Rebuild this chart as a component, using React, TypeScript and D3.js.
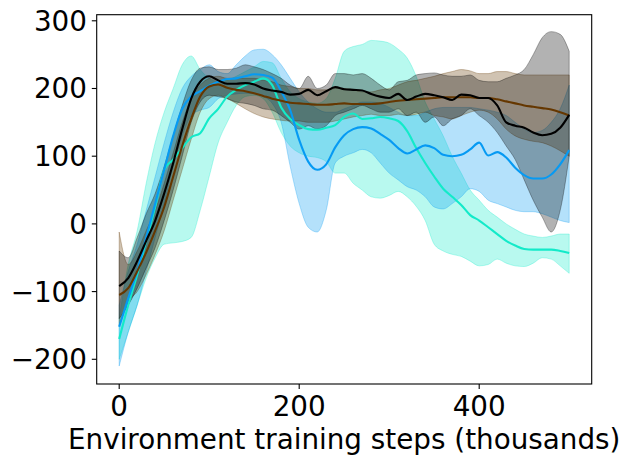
import { useMemo } from 'react';
import * as d3 from 'd3';

// training steps (thousands)
const steps = [
  0, 10, 20, 30, 40, 50, 60, 70, 80, 90, 100, 110, 120, 130, 140, 150, 160, 170, 180, 190, 200,
  210, 220, 230, 240, 250, 260, 270, 280, 290, 300, 310, 320, 330, 340, 350, 360, 370, 380, 390,
  400, 410, 420, 430, 440, 450, 460, 470, 480, 490, 500,
];

const turqMean = [
  -170, -120, -75, -25, 25, 80, 95, 112, 128, 134, 156, 170, 188, 198, 205, 210, 215, 205, 172,
  155, 146, 140, 139, 142, 146, 158, 163, 155, 156, 158, 156, 152, 137, 112, 90, 70, 52, 40, 28,
  13, 5, -5, -15, -25, -32, -37, -38, -38, -38, -40, -43,
];
const turqLo = [
  -200, -160, -120, -80, -50, -30, -28, -26, -20, 20, 70, 120, 150, 175, 188, 190, 185, 165, 135,
  115, 105, 100, 98, 92, 75, 75, 60, 50, 40, 38, 42, 48, 40, 26, 5, -30, -40, -45, -48, -55, -62,
  -60, -52, -58, -62, -63, -58, -50, -52, -62, -73,
];
const turqHi = [
  -140, -60, -10, 60, 120, 165, 200, 235, 248, 228, 215, 210, 212, 218, 225, 232, 240, 238, 215,
  195, 185, 180, 178, 185, 215, 255, 262, 265, 271, 270, 267, 258, 245, 218, 180, 155, 130, 100,
  75, 50, 35, 20, 10, 0, -8, -15, -18, -20, -18, -15, -15,
];

const blueMean = [
  -152, -110, -70, -20, 30, 80, 130, 170, 188, 196, 204, 210, 214, 215, 218, 221, 220, 216, 196,
  168, 124, 92, 80, 88, 113, 131, 140, 143, 141, 133, 124, 112, 104, 110, 116, 112, 102, 100, 102,
  110, 120, 101, 106, 98, 83, 72, 67, 67, 73, 88, 109,
];
const blueLo = [
  -210, -160, -120, -70, -20, 30, 85, 130, 160, 168, 172, 185, 190, 192, 193, 192, 188, 178, 150,
  85, 30, -5, -12, 20, 90, 100, 105, 110, 105, 90, 75, 65, 55, 50, 40, 25, 22, 30, 40, 52, 48, 35,
  30, 25, 20, 18, 18, 15, 10, 5, 2,
];
const blueHi = [
  -120, -70, -30, 20, 70, 120, 165, 200, 218, 228, 235, 225, 222, 235, 248, 257, 258, 250, 235,
  215, 195, 180, 170, 165, 165, 170, 175, 180, 180, 178, 172, 165, 160, 160, 165, 170, 172, 172,
  172, 172, 170, 168, 165, 160, 150, 140, 135, 138, 150, 170, 205,
];

const brownMean = [
  -105, -95, -70, -42, -10, 25, 70, 115, 155, 188, 203, 206, 201, 198, 196, 193, 189, 185, 182,
  179, 178, 177, 176, 176, 177, 178, 177, 177, 177, 178, 180, 182, 183, 184, 185, 186, 187, 187,
  187, 187, 186, 186, 184, 181, 178, 175, 173, 171, 169, 165, 160,
];
const brownLo = [
  -150, -115, -100, -75, -45, -10, 35, 80, 125, 165, 185, 190, 185, 178, 170, 163, 158, 155, 153,
  152, 152, 150, 150, 150, 152, 155, 158, 160, 162, 160, 160, 162, 160, 162, 165, 160, 158, 155,
  160, 165, 168, 165, 155, 140, 130, 125, 122, 120, 115, 108, 100,
];
const brownHi = [
  -12, -60, -40, -10, 20, 60, 105, 150, 185, 205, 215, 218, 215, 215, 215, 215, 212, 210, 205, 203,
  200, 200, 198, 198, 200, 200, 198, 195, 195, 198, 200, 205, 210, 212, 215, 218, 222, 225, 228,
  226, 222, 222, 225, 225, 222, 220, 220, 220, 220, 220, 220,
];

const blackMean = [
  -92, -80, -55, -25, 5, 45, 90, 140, 185, 210, 218, 212, 207, 207, 208, 206, 200, 197, 195, 191,
  192, 198, 190, 196, 202, 199, 198, 197, 192, 188, 186, 192, 183, 188, 192, 190, 187, 183, 191,
  190, 186, 186, 175, 150, 145, 142, 135, 131, 133, 142, 161,
];
const blackLo = [
  -140, -120, -95, -65, -35, 5, 50, 100, 150, 180, 190, 188, 185, 180, 178, 175, 170, 168, 160,
  150, 140, 145, 140, 145, 160, 165, 170, 175, 170, 165, 165, 170, 160, 165, 150, 158, 145, 155,
  160, 170, 160, 150, 135, 115, 95, 65, 35, 10, -12, 20, 100,
];
const blackHi = [
  -40, -50, -20, 15, 45, 85, 130, 175, 212, 230, 232, 228, 228, 230, 235, 232, 228, 222, 215, 205,
  200, 218, 200, 205, 222, 222, 220, 222, 215, 205, 198, 210, 212, 220, 222, 223, 220, 218, 218,
  220, 212, 210, 210, 215, 220, 228, 250, 275, 284, 280, 255,
];

const series = [
  { name: 'turquoise', color: '#13eac9', mean: turqMean, lo: turqLo, hi: turqHi },
  { name: 'blue', color: '#069af3', mean: blueMean, lo: blueLo, hi: blueHi },
  { name: 'brown', color: '#653700', mean: brownMean, lo: brownLo, hi: brownHi },
  { name: 'black', color: '#000000', mean: blackMean, lo: blackLo, hi: blackHi },
];

const xTicks = [0, 200, 400];
const yTicks = [-200, -100, 0, 100, 200, 300];
const xLabel = 'Environment training steps (thousands)';

const width = 630;
const height = 465;
const margin = { top: 14.7, right: 38.3, bottom: 81, left: 96.7 };
const fontSize = 27.8;
const tickLen = 4.9;
const font = 'DejaVu Sans, sans-serif';

export default function App() {
  const x = useMemo(
    () => d3.scaleLinear().domain([-25, 525]).range([margin.left, width - margin.right]),
    [],
  );
  const y = useMemo(
    () => d3.scaleLinear().domain([-236.5, 309]).range([height - margin.bottom, margin.top]),
    [],
  );

  const area = d3
    .area<number>()
    .x((_, i) => x(steps[i]))
    .curve(d3.curveMonotoneX);
  const line = d3
    .line<number>()
    .x((_, i) => x(steps[i]))
    .y((d) => y(d))
    .curve(d3.curveMonotoneX);

  const bottom = height - margin.bottom;

  return (
    <svg
      width={width}
      height={height}
      style={{ position: 'fixed', left: 0, top: 0, background: '#fff' }}
      fontFamily={font}
    >
      {series.map((s) => (
        <path
          key={`band-${s.name}`}
          d={
            area
              .y0((_, i) => y(s.lo[i]))
              .y1((_, i) => y(s.hi[i]))(s.mean)!
          }
          fill={s.color}
          fillOpacity={0.3}
          stroke={s.color}
          strokeOpacity={0.3}
          strokeWidth={1}
        />
      ))}
      {series.map((s) => (
        <path
          key={`line-${s.name}`}
          d={line(s.mean)!}
          fill="none"
          stroke={s.color}
          strokeWidth={2.1}
        />
      ))}

      <rect
        x={margin.left}
        y={margin.top}
        width={width - margin.left - margin.right}
        height={bottom - margin.top}
        fill="none"
        stroke="#000"
        strokeWidth={1.1}
      />

      {xTicks.map((t) => (
        <g key={`x-${t}`}>
          <line x1={x(t)} x2={x(t)} y1={bottom} y2={bottom + tickLen} stroke="#000" strokeWidth={1.1} />
          <text x={x(t)} y={bottom + 32} textAnchor="middle" fontSize={fontSize}>
            {t}
          </text>
        </g>
      ))}
      {yTicks.map((t) => (
        <g key={`y-${t}`}>
          <line
            x1={margin.left - tickLen}
            x2={margin.left}
            y1={y(t)}
            y2={y(t)}
            stroke="#000"
            strokeWidth={1.1}
          />
          <text x={margin.left - 9.7} y={y(t) + 10} textAnchor="end" fontSize={fontSize}>
            {t < 0 ? `\u2212${Math.abs(t)}` : t}
          </text>
        </g>
      ))}

      <text
        x={(margin.left + width - margin.right) / 2}
        y={449}
        textAnchor="middle"
        fontSize={fontSize}
      >
        {xLabel}
      </text>
    </svg>
  );
}
